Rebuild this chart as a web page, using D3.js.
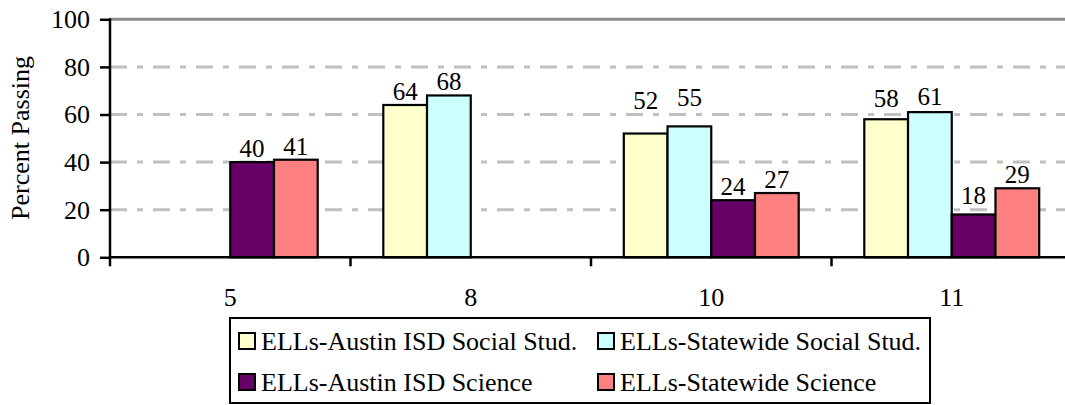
<!DOCTYPE html>
<html>
<head>
<meta charset="utf-8">
<script src="https://cdn.jsdelivr.net/npm/d3@7"></script>
<style>
  html, body { margin: 0; padding: 0; background: #fff; }
  svg { display: block; }
  svg text { font-family: "Liberation Serif", "Times New Roman", Tinos, "DejaVu Serif", serif !important; }
</style>
</head>
<body>
<svg id="chart" width="1065" height="405"></svg>
<script>
// ---- data ----
const grades = ["5", "8", "10", "11"];
const seriesNames = [
  "ELLs-Austin ISD Social Stud.",
  "ELLs-Statewide Social Stud.",
  "ELLs-Austin ISD Science",
  "ELLs-Statewide Science"
];
const austinSocial    = [null, 64, 52, 58];
const statewideSocial = [null, 68, 55, 61];
const austinScience   = [40, null, 24, 18];
const statewideScience= [41, null, 27, 29];
const yTicks = [0, 20, 40, 60, 80, 100];
const seriesColors = ["#FFFFCC", "#CCFFFF", "#660066", "#FF8080"];

const seriesValues = [austinSocial, statewideSocial, austinScience, statewideScience];

// ---- layout ----
const FONT = "'Liberation Serif', 'Times New Roman', Tinos, 'DejaVu Serif', serif";
const svg = d3.select("#chart").attr("font-family", FONT);
const pL = 110, pR = 1072, pT = 19.3, pB = 257.3;

const x = d3.scaleBand().domain(grades).range([pL, pR]).paddingInner(0).paddingOuter(0);
const bw = x.bandwidth() / 5.5;
const xs = d3.scaleBand().domain(d3.range(4).map(String))
  .range([bw * 0.75, bw * 4.75]).padding(0);
const y = d3.scaleLinear().domain([0, 100]).range([pB, pT]);

// gridlines
const grid = svg.append("g");
grid.selectAll("line.g").data(yTicks.filter(d => d > 0 && d < 100)).join("line")
  .attr("x1", pL).attr("x2", 1065)
  .attr("y1", d => y(d)).attr("y2", d => y(d))
  .attr("stroke", "#C0C0C0").attr("stroke-width", 3)
  .attr("stroke-dasharray", "17,10,6,10");
grid.append("line")
  .attr("x1", pL).attr("x2", 1065)
  .attr("y1", y(100)).attr("y2", y(100))
  .attr("stroke", "#8C8C8C").attr("stroke-width", 3);

// bars
const barData = [];
grades.forEach((g, gi) => {
  seriesValues.forEach((vals, si) => {
    const v = vals[gi];
    if (v != null) barData.push({ g, si, v });
  });
});

svg.append("g").selectAll("rect").data(barData).join("rect")
  .attr("x", d => x(d.g) + xs(String(d.si)))
  .attr("y", d => y(d.v))
  .attr("width", xs.bandwidth())
  .attr("height", d => y(0) - y(d.v))
  .attr("fill", d => seriesColors[d.si])
  .attr("stroke", "#000").attr("stroke-width", 2.2);

// value labels (a few were lifted in the original chart)
const labelLift = { "10|0": 20, "10|1": 15, "11|0": 7, "11|1": 2, "11|2": 5 };
svg.append("g").selectAll("text").data(barData).join("text")
  .attr("x", d => x(d.g) + xs(String(d.si)) + xs.bandwidth() / 2)
  .attr("y", d => y(d.v) - 5 - (labelLift[d.g + "|" + d.si] || 0))
  .attr("text-anchor", "middle")
  .attr("font-family", FONT)
  .attr("font-size", 25)
  .attr("fill", "#000")
  .text(d => d.v);

// y axis
const yAxis = d3.axisLeft(y).tickValues(yTicks).tickSize(10).tickPadding(10);
const gy = svg.append("g").attr("transform", `translate(${pL},0)`).call(yAxis)
  .attr("font-family", FONT).attr("font-size", 26);
gy.select(".domain").remove();
gy.selectAll(".tick line").attr("stroke", "#000").attr("stroke-width", 2.5);
gy.selectAll(".tick text").attr("font-size", 26).attr("font-family", FONT).attr("fill", "#000");
svg.append("line").attr("x1", pL).attr("x2", pL).attr("y1", pT - 1).attr("y2", pB + 9)
  .attr("stroke", "#000").attr("stroke-width", 2.5);

// x axis
svg.append("line").attr("x1", pL).attr("x2", 1065).attr("y1", pB).attr("y2", pB)
  .attr("stroke", "#000").attr("stroke-width", 2.5);
svg.append("g").selectAll("line").data(grades.slice(1)).join("line")
  .attr("x1", d => x(d)).attr("x2", d => x(d))
  .attr("y1", pB).attr("y2", pB + 9)
  .attr("stroke", "#000").attr("stroke-width", 2.5);
svg.append("g").selectAll("text").data(grades).join("text")
  .attr("x", d => x(d) + x.bandwidth() / 2)
  .attr("y", 306)
  .attr("text-anchor", "middle")
  .attr("font-family", FONT)
  .attr("font-size", 26)
  .attr("fill", "#000")
  .text(d => d);

// y axis title
svg.append("text")
  .attr("transform", "translate(29,138) rotate(-90)")
  .attr("text-anchor", "middle")
  .attr("font-family", FONT)
  .attr("font-size", 26)
  .attr("fill", "#000")
  .text("Percent Passing");

// legend
const lg = svg.append("g");
lg.append("rect").attr("x", 230).attr("y", 318).attr("width", 700).attr("height", 85)
  .attr("fill", "#fff").attr("stroke", "#000").attr("stroke-width", 2);
const legPos = [[238, 341], [597, 341], [238, 382], [597, 382]];
seriesNames.forEach((name, i) => {
  const [lx, ly] = legPos[i];
  lg.append("rect").attr("x", lx + 1).attr("y", ly - 8).attr("width", 16).attr("height", 16)
    .attr("fill", seriesColors[i]).attr("stroke", "#000").attr("stroke-width", 2);
  lg.append("text").attr("x", lx + 23).attr("y", ly + 9)
    .attr("font-family", FONT)
    .attr("font-size", 26).attr("fill", "#000").text(name);
});
</script>
</body>
</html>
